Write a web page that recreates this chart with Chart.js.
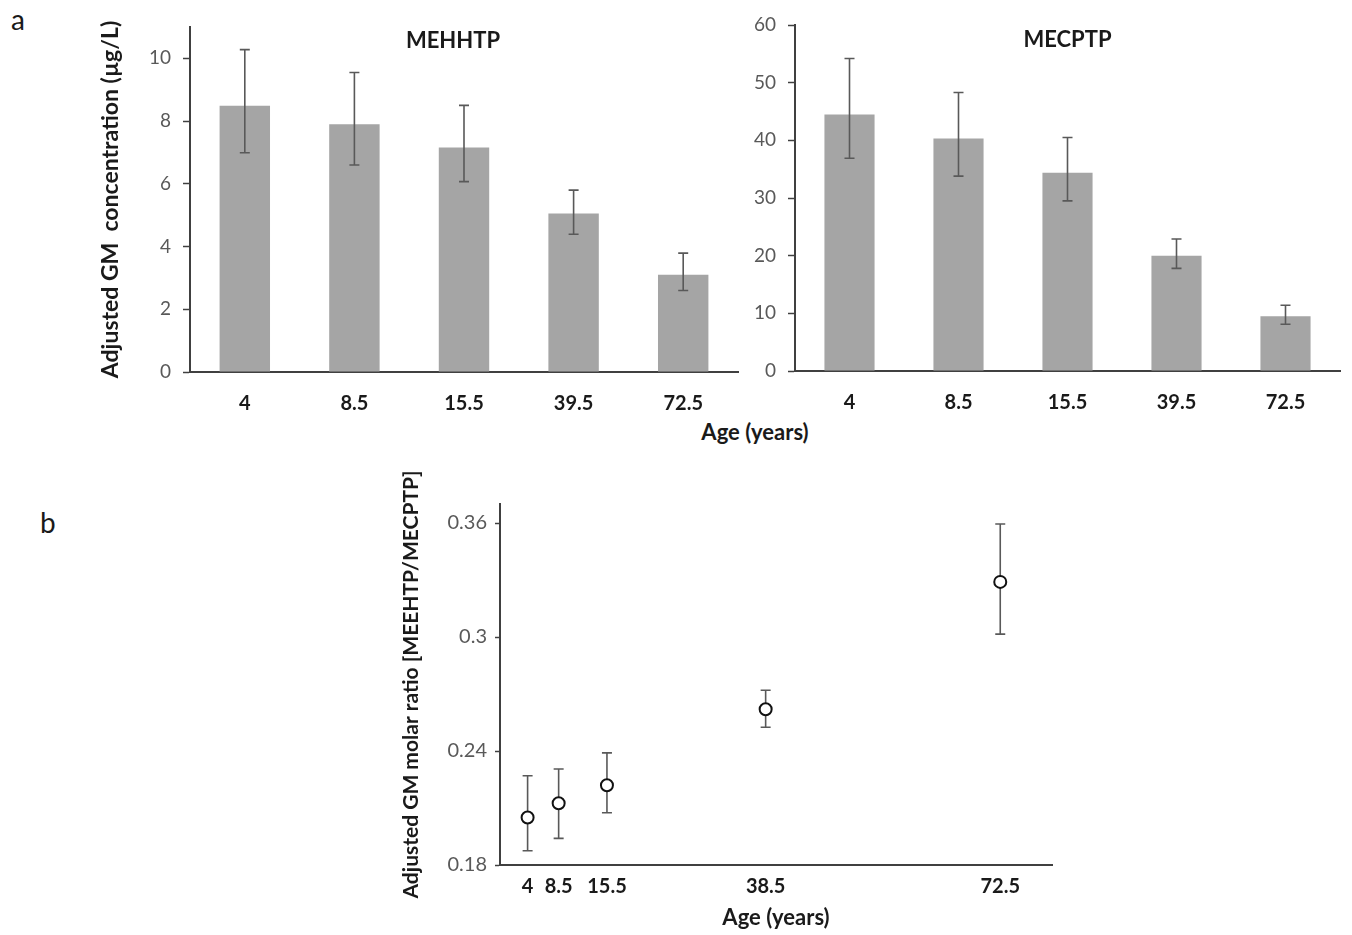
<!DOCTYPE html>
<html lang="en">
<head>
<meta charset="UTF-8">
<title>Adjusted GM concentrations by age</title>
<script src="https://cdn.jsdelivr.net/npm/chart.js"></script>
<style>
  * { margin:0; padding:0; box-sizing:border-box; }
  body { background:#fff; width:1352px; height:935px; overflow:hidden; position:relative; font-family:'Lato', sans-serif; color:#1a1a1a; }
  canvas { position:absolute; }
  .lbl { position:absolute; line-height:1; white-space:nowrap; }
  .panel { font-size:28px; }
  .axis-title { font-size:22px; font-weight:700; transform:translateX(-50%); }
</style>
</head>
<body>
<div class="lbl panel" style="left:11px;top:5px">a</div>
<div class="lbl panel" style="left:40px;top:508px">b</div>
<div class="lbl axis-title" style="left:755px;top:421px">Age (years)</div>
<canvas id="mehhtp" width="760" height="450" style="left:0;top:0"></canvas>
<canvas id="mecptp" width="622" height="450" style="left:730px;top:0"></canvas>
<canvas id="ratio" width="700" height="475" style="left:380px;top:460px"></canvas>
<script>
// panel a: age groups and adjusted GM (µg/L) with 95% CI
const ages = ['4', '8.5', '15.5', '39.5', '72.5'];
const mehhtpGM = [8.49, 7.90, 7.16, 5.05, 3.10];
const mehhtpLow = [6.99, 6.60, 6.07, 4.39, 2.60];
const mehhtpHigh = [10.28, 9.55, 8.50, 5.80, 3.79];
const mecptpGM = [44.5, 40.3, 34.4, 20.0, 9.5];
const mecptpLow = [36.9, 33.8, 29.5, 17.8, 8.1];
const mecptpHigh = [54.2, 48.3, 40.5, 22.9, 11.4];
const mehhtpTicks = [0, 2, 4, 6, 8, 10];
const mecptpTicks = [0, 10, 20, 30, 40, 50, 60];

// panel b: molar ratio by age
const ratioAges = [4, 8.5, 15.5, 38.5, 72.5];
const ratioGM = [0.205, 0.2125, 0.222, 0.262, 0.329];
const ratioLow = [0.1875, 0.194, 0.2075, 0.2525, 0.3015];
const ratioHigh = [0.227, 0.2305, 0.239, 0.272, 0.3595];
const ratioTicks = [0.18, 0.24, 0.30, 0.36];

const FONT = 'Lato';
const AXIS = '#404040';
const GREY_TXT = '#595959';

function drawErrors(chart, o) {
  const { ctx, scales: { y } } = chart;
  const pts = chart.getDatasetMeta(0).data;
  ctx.save();
  ctx.strokeStyle = '#595959';
  ctx.lineWidth = 1.6;
  o.low.forEach((lo, i) => {
    const px = pts[i].x;
    const top = y.getPixelForValue(o.high[i]);
    const bot = y.getPixelForValue(lo);
    ctx.beginPath();
    ctx.moveTo(px, top); ctx.lineTo(px, bot);
    ctx.moveTo(px - o.cap, top); ctx.lineTo(px + o.cap, top);
    ctx.moveTo(px - o.cap, bot); ctx.lineTo(px + o.cap, bot);
    ctx.stroke();
  });
  ctx.restore();
}

const errorBars = {
  id: 'errorBars',
  beforeDatasetsDraw(chart, args, o) { if (o.behind) drawErrors(chart, o); },
  afterDatasetsDraw(chart, args, o) { if (!o.behind) drawErrors(chart, o); }
};

// title sitting inside the plot area, like the original figure
const innerTitle = {
  id: 'innerTitle',
  afterDraw(chart, args, o) {
    if (!o.text) return;
    const { ctx, chartArea } = chart;
    ctx.save();
    ctx.font = 'bold 22px ' + FONT;
    ctx.fillStyle = '#1a1a1a';
    ctx.textAlign = 'center';
    ctx.textBaseline = 'middle';
    ctx.fillText(o.text, (chartArea.left + chartArea.right) / 2 + o.dx, o.y);
    ctx.restore();
  }
};

function barChart(id, values, low, high, ticks, yMax, lay) {
  return new Chart(document.getElementById(id), {
    type: 'bar',
    data: {
      labels: ages,
      datasets: [{ data: values, backgroundColor: '#a5a5a5', categoryPercentage: 1, barPercentage: 0.46 }]
    },
    options: {
      responsive: false,
      animation: false,
      layout: { padding: lay.padding },
      plugins: {
        legend: { display: false },
        tooltip: { enabled: false },
        errorBars: { low, high, cap: 5, behind: false },
        innerTitle: lay.title
      },
      scales: {
        x: {
          grid: { display: false, drawTicks: false },
          border: { display: true, color: AXIS, width: 2 },
          ticks: { color: '#1a1a1a', font: { family: FONT, size: 20, weight: 'bold' }, padding: 20 },
          afterFit: s => { s.height = lay.xHeight; }
        },
        y: {
          min: 0, max: yMax,
          afterBuildTicks: s => { s.ticks = ticks.map(v => ({ value: v })); },
          afterFit: s => { s.width = lay.yWidth; },
          grid: { drawOnChartArea: false, drawTicks: true, tickLength: 7, tickColor: AXIS, tickWidth: 1.5 },
          border: { display: true, color: AXIS, width: 2 },
          ticks: { color: GREY_TXT, font: { family: FONT, size: 19 }, padding: 12 },
          title: lay.yTitle
        }
      }
    },
    plugins: [errorBars, innerTitle]
  });
}

barChart('mehhtp', mehhtpGM, mehhtpLow, mehhtpHigh, mehhtpTicks, 11, {
  padding: { left: 93, top: 27, right: 22, bottom: 0 },
  yWidth: 97, xHeight: 78,
  title: { text: 'MEHHTP', dx: -11, y: 41 },
  yTitle: { display: true, text: 'Adjusted GM  concentration (µg/L)', color: '#1a1a1a', font: { family: FONT, size: 23, weight: 'bold' } }
});

barChart('mecptp', mecptpGM, mecptpLow, mecptpHigh, mecptpTicks, 60, {
  padding: { left: 0, top: 25, right: 12, bottom: 0 },
  yWidth: 65, xHeight: 79,
  title: { text: 'MECPTP', dx: 0, y: 40 },
  yTitle: { display: false }
});

new Chart(document.getElementById('ratio'), {
  type: 'scatter',
  data: {
    datasets: [{
      data: ratioAges.map((a, i) => ({ x: a, y: ratioGM[i] })),
      pointRadius: 6,
      pointBorderWidth: 2,
      pointBorderColor: '#111',
      pointBackgroundColor: '#fff'
    }]
  },
  options: {
    responsive: false,
    animation: false,
    layout: { padding: { left: 15, top: 44, right: 28, bottom: 0 } },
    plugins: {
      legend: { display: false },
      tooltip: { enabled: false },
      errorBars: { low: ratioLow, high: ratioHigh, cap: 5, behind: true }
    },
    scales: {
      x: {
        type: 'linear', min: 0, max: 80,
        afterBuildTicks: s => { s.ticks = ratioAges.map(v => ({ value: v })); },
        afterFit: s => { s.height = 70; },
        grid: { display: false, drawTicks: false },
        border: { display: true, color: AXIS, width: 2 },
        ticks: { color: '#1a1a1a', font: { family: FONT, size: 20, weight: 'bold' }, padding: 10 },
        title: { display: true, text: 'Age (years)', color: '#1a1a1a', font: { family: FONT, size: 22, weight: 'bold' } }
      },
      y: {
        min: 0.18, max: 0.37,
        afterBuildTicks: s => { s.ticks = ratioTicks.map(v => ({ value: v })); },
        afterFit: s => { s.width = 105; },
        grid: { drawOnChartArea: false, drawTicks: true, tickLength: 5, tickColor: AXIS, tickWidth: 1.5 },
        border: { display: true, color: AXIS, width: 2 },
        ticks: { color: GREY_TXT, font: { family: FONT, size: 20 }, padding: 8, callback: v => String(+v.toFixed(2)) },
        title: { display: true, text: 'Adjusted GM molar ratio [MEEHTP/MECPTP]', color: '#1a1a1a', font: { family: FONT, size: 21, weight: 'bold' } }
      }
    }
  },
  plugins: [errorBars]
});
</script>
</body>
</html>
